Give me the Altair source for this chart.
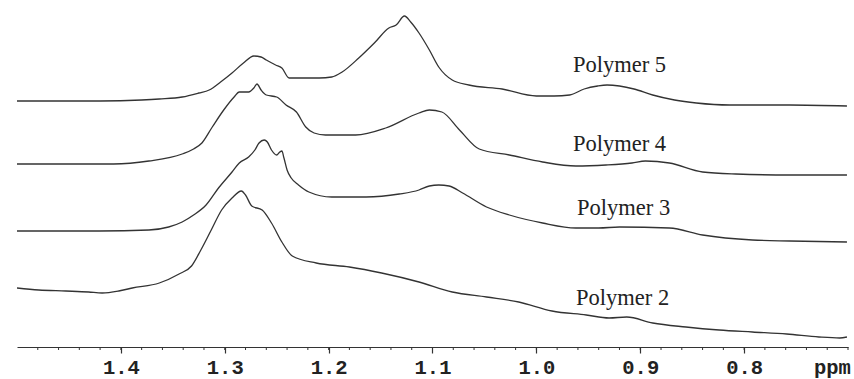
import altair as alt
import pandas as pd

# ---- data (ppm, relative intensity above the axis) ----
p5_ppm = [1.50, 1.46, 1.42, 1.38, 1.363, 1.341, 1.325, 1.315, 1.304, 1.293, 1.282, 1.272, 1.265, 1.260,
          1.251, 1.245, 1.238, 1.229, 1.209, 1.197, 1.187, 1.171, 1.156, 1.142, 1.135, 1.127, 1.121, 1.113,
          1.103, 1.094, 1.081, 1.065, 1.033, 1.000, 0.983, 0.968, 0.954, 0.941, 0.932, 0.920, 0.906, 0.888,
          0.867, 0.846, 0.814, 0.756, 0.701]
p5_int = [246, 246, 246, 247, 248, 250, 254, 257, 265, 274, 284, 291, 290, 287,
          282, 279, 269, 269, 269, 270, 275, 289, 304, 319, 322, 331, 325, 314,
          297, 280, 267, 262, 258, 251, 251, 252, 258, 261, 262, 261, 258, 252,
          247, 244, 242, 242, 241]

p4_ppm = [1.50, 1.460, 1.407, 1.373, 1.341, 1.330, 1.322, 1.312, 1.301, 1.291, 1.286, 1.277, 1.272, 1.269,
          1.265, 1.260, 1.250, 1.241, 1.231, 1.222, 1.214, 1.203, 1.174, 1.145, 1.113, 1.103, 1.091, 1.074,
          1.055, 1.026, 0.994, 0.962, 0.933, 0.908, 0.895, 0.872, 0.840, 0.808, 0.756, 0.701]
p4_int = [183, 183, 183, 186, 193, 198, 204, 220, 237, 250, 255, 255, 259, 263,
          257, 252, 250, 242, 235, 220, 214, 212, 212, 219, 234, 237, 235, 217,
          198, 192, 185, 181, 182, 184, 186, 184, 175, 173, 172, 172]

p3_ppm = [1.50, 1.460, 1.421, 1.373, 1.354, 1.341, 1.330, 1.318, 1.306, 1.293, 1.286, 1.277, 1.271, 1.267,
          1.262, 1.259, 1.255, 1.250, 1.247, 1.245, 1.243, 1.240, 1.236, 1.229, 1.219, 1.197, 1.164, 1.132,
          1.113, 1.103, 1.094, 1.084, 1.071, 1.048, 1.026, 0.994, 0.962, 0.940, 0.920, 0.872, 0.840, 0.792,
          0.756, 0.701]
p3_int = [116, 116, 116, 117, 120, 125, 132, 142, 159, 175, 184, 190, 197, 204,
          207, 205, 197, 192, 195, 196, 189, 177, 169, 162, 155, 150, 150, 153,
          157, 161, 162, 161, 154, 140, 132, 124, 119, 119, 120, 119, 112, 107,
          106, 105]

p2_ppm = [1.50, 1.479, 1.453, 1.431, 1.418, 1.402, 1.389, 1.363, 1.344, 1.332, 1.323, 1.313, 1.303, 1.293,
          1.284, 1.280, 1.274, 1.264, 1.255, 1.245, 1.235, 1.212, 1.180, 1.149, 1.113, 1.081, 1.048, 1.017,
          0.985, 0.952, 0.930, 0.913, 0.888, 0.856, 0.824, 0.792, 0.759, 0.728, 0.708, 0.701]
p2_int = [59, 57, 56, 55, 54, 56, 59, 64, 73, 81, 97, 117, 137, 149,
          156, 152, 141, 137, 124, 105, 91, 84, 80, 74, 65, 55, 50, 45,
          36, 32, 29, 30, 24, 20, 17, 15, 13, 10, 9, 10]

label_names = ["Polymer 5", "Polymer 4", "Polymer 3", "Polymer 2"]
label_ppm = [0.920, 0.920, 0.916, 0.917]
label_int = [282, 203, 139, 49]

major_ticks = [1.4, 1.3, 1.2, 1.1, 1.0, 0.9, 0.8]
minor_ticks = [round(1.48 - 0.02 * i, 2) for i in range(40)]
unit_label = "ppm"
unit_ppm = 0.715
unit_int = -21

rows = []
for name, xs, ys in [("Polymer 5", p5_ppm, p5_int), ("Polymer 4", p4_ppm, p4_int),
                     ("Polymer 3", p3_ppm, p3_int), ("Polymer 2", p2_ppm, p2_int)]:
    for x, y in zip(xs, ys):
        rows.append({"series": name, "ppm": x, "intensity": y})
df = pd.DataFrame(rows)
lab_df = pd.DataFrame({"name": label_names, "ppm": label_ppm, "intensity": label_int})
unit_df = pd.DataFrame({"name": [unit_label], "ppm": [unit_ppm], "intensity": [unit_int]})
minor_df = pd.DataFrame({"ppm": minor_ticks})

xscale = alt.Scale(domain=[0.7, 1.5], reverse=True, nice=False, zero=False)
yscale = alt.Scale(domain=[0, 347], nice=False, zero=False)

xaxis = alt.Axis(
    values=major_ticks, format=".1f", tickSize=6,
    labelFont="Liberation Mono", labelFontWeight="bold", labelFontSize=20.5, labelColor="#222",
    labelPadding=4, labelFlush=False, labelOverlap=False, labelAngle=0,
    domainColor="#333", domainWidth=1.2, tickColor="#333", tickWidth=1.2,
    grid=False, title=None,
)

lines = alt.Chart(df).mark_line(color="#333333", strokeWidth=1.3, interpolate="monotone").encode(
    x=alt.X("ppm:Q", scale=xscale, axis=xaxis),
    y=alt.Y("intensity:Q", scale=yscale, axis=None),
    detail="series:N",
    order="ppm:Q",
)

minor = alt.Chart(minor_df).mark_rule(color="#333", strokeWidth=1).encode(
    x=alt.X("ppm:Q", scale=xscale),
    y=alt.datum(0, scale=yscale),
    y2=alt.datum(-3),
)

labels = alt.Chart(lab_df).mark_text(font="Liberation Serif", fontSize=22.5, color="#222",
                                     align="center", baseline="middle").encode(
    x=alt.X("ppm:Q", scale=xscale),
    y=alt.Y("intensity:Q", scale=yscale),
    text="name:N",
)

unit = alt.Chart(unit_df).mark_text(font="Liberation Mono", fontWeight="bold", fontSize=20.5,
                                    color="#222", align="center", baseline="middle").encode(
    x=alt.X("ppm:Q", scale=xscale),
    y=alt.Y("intensity:Q", scale=yscale),
    text="name:N",
)

chart = alt.layer(lines, minor, labels, unit).properties(
    width=831, height=347,
    autosize=alt.AutoSizeParams(type="none"),
    padding={"left": 17, "top": 0, "right": 6, "bottom": 32},
    background="white",
).configure_view(stroke=None)

chart.save("out.html", embed_options={"renderer": "svg", "actions": False})
